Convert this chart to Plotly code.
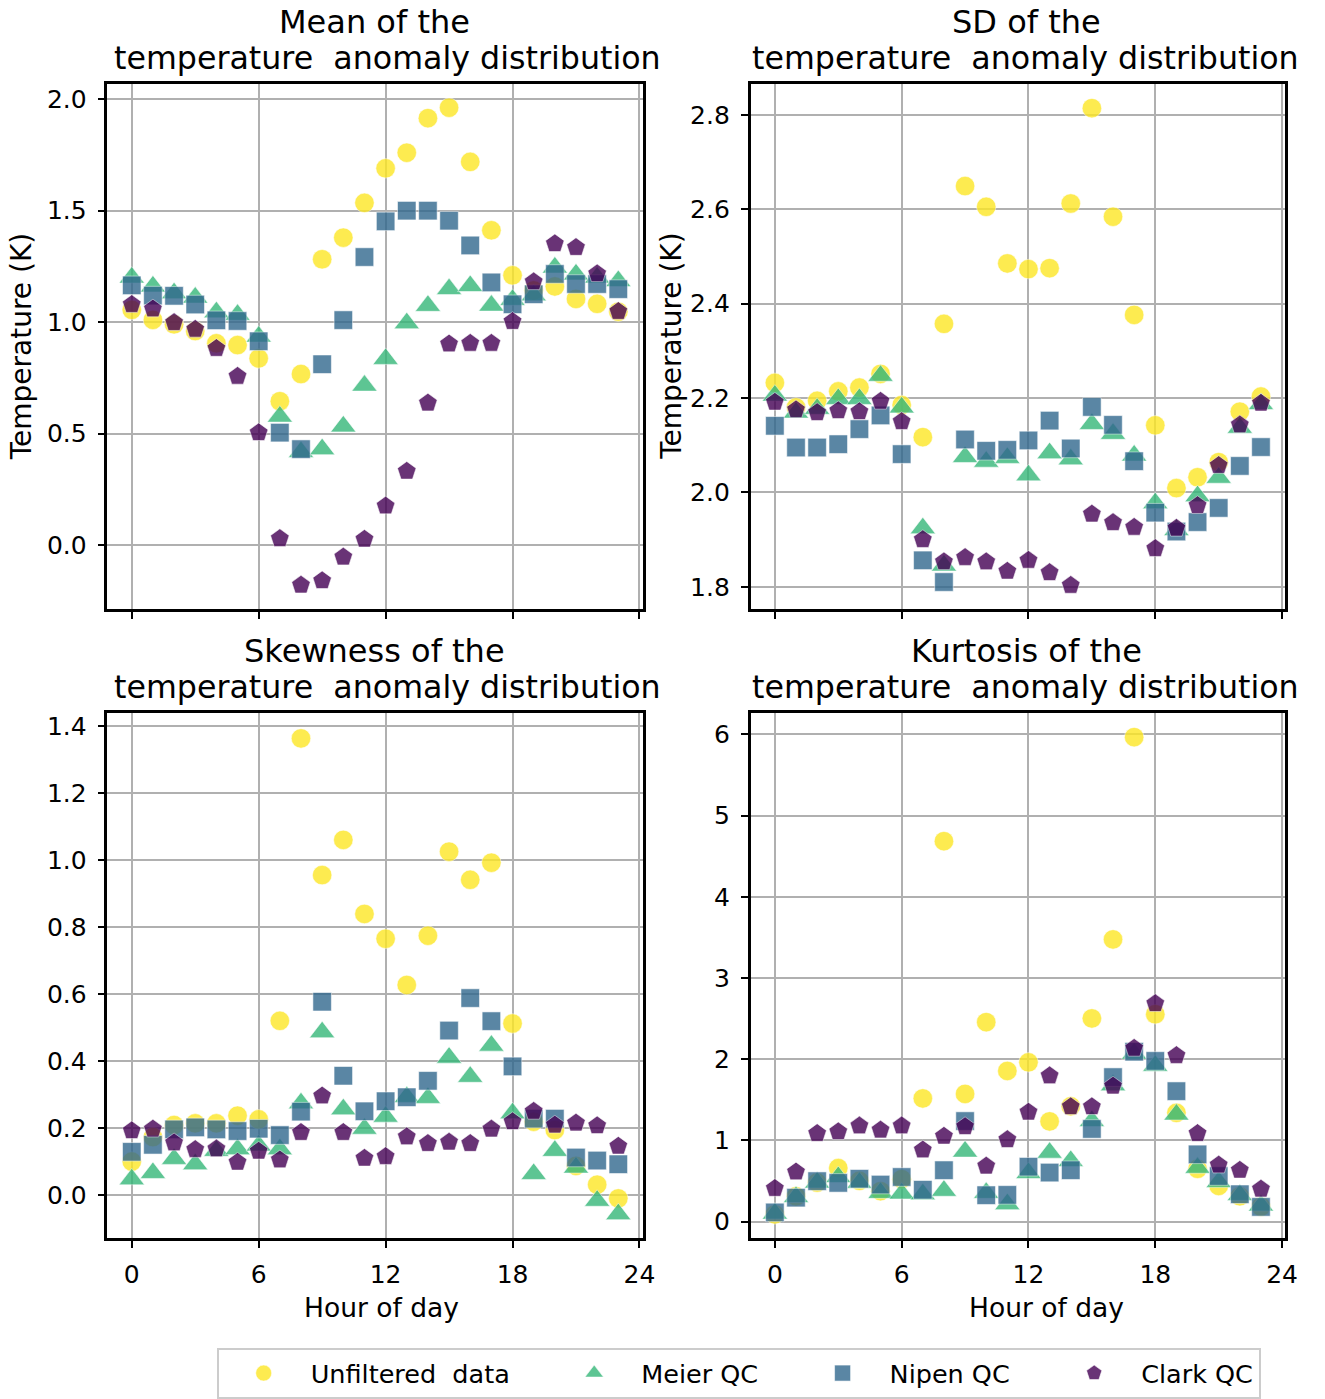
import plotly.graph_objects as go

hours = list(range(24))

NBSP = "\u00a0"
series_names = ["Unfiltered" + NBSP + " data", "Meier QC", "Nipen QC", "Clark QC"]
legend_pad = [NBSP * 4, NBSP * 4, NBSP * 4, ""]
series_colors = ["#fde725", "#35b779", "#31688e", "#440154"]
series_symbols = ["circle", "triangle-up", "square", "pentagon"]
series_sizes = [19.5, 22, 18.5, 19.5]

mean_unf = [1.055, 1.01, 0.99, 0.96, 0.905, 0.897, 0.837, 0.645, 0.767, 1.282, 1.379, 1.535, 1.690, 1.760, 1.915, 1.962, 1.719, 1.412, 1.210, 1.142, 1.160, 1.104, 1.082, 1.047]
mean_meier = [1.20, 1.16, 1.13, 1.11, 1.044, 1.033, 0.935, 0.576, 0.417, 0.430, 0.532, 0.715, 0.835, 0.995, 1.073, 1.148, 1.162, 1.074, 1.10, 1.12, 1.245, 1.214, 1.20, 1.184]
mean_nipen = [1.165, 1.119, 1.118, 1.079, 1.008, 1.005, 0.914, 0.504, 0.430, 0.811, 1.009, 1.292, 1.452, 1.500, 1.500, 1.455, 1.344, 1.178, 1.080, 1.125, 1.216, 1.171, 1.171, 1.148]
mean_clark = [1.079, 1.059, 0.998, 0.968, 0.882, 0.757, 0.504, 0.029, -0.180, -0.160, -0.054, 0.026, 0.175, 0.331, 0.637, 0.902, 0.905, 0.905, 1.003, 1.181, 1.352, 1.335, 1.217, 1.048]

sd_unf = [2.232, 2.18, 2.194, 2.214, 2.222, 2.251, 2.185, 2.117, 2.357, 2.649, 2.605, 2.485, 2.473, 2.475, 2.612, 2.814, 2.584, 2.376, 2.142, 2.009, 2.032, 2.064, 2.171, 2.203]
sd_meier = [2.205, 2.169, 2.177, 2.198, 2.198, 2.247, 2.180, 1.924, 1.845, 2.075, 2.065, 2.073, 2.036, 2.083, 2.070, 2.145, 2.124, 2.078, 1.977, 1.92, 1.992, 2.031, 2.137, 2.187]
sd_nipen = [2.141, 2.095, 2.095, 2.102, 2.134, 2.163, 2.081, 1.856, 1.810, 2.112, 2.088, 2.090, 2.110, 2.152, 2.093, 2.181, 2.143, 2.066, 1.957, 1.917, 1.937, 1.967, 2.056, 2.096]
sd_clark = [2.191, 2.175, 2.169, 2.173, 2.171, 2.193, 2.150, 1.900, 1.853, 1.862, 1.853, 1.833, 1.856, 1.830, 1.803, 1.954, 1.936, 1.926, 1.881, 1.924, 1.972, 2.057, 2.143, 2.189]

skew_unf = [0.101, 0.174, 0.210, 0.215, 0.215, 0.238, 0.227, 0.521, 1.364, 0.956, 1.061, 0.840, 0.766, 0.628, 0.775, 1.026, 0.942, 0.993, 0.513, 0.220, 0.195, 0.088, 0.032, -0.009]
skew_meier = [0.048, 0.067, 0.109, 0.093, 0.133, 0.138, 0.149, 0.138, 0.275, 0.487, 0.257, 0.199, 0.235, 0.294, 0.291, 0.411, 0.354, 0.447, 0.245, 0.064, 0.133, 0.083, -0.016, -0.056]
skew_nipen = [0.130, 0.151, 0.197, 0.203, 0.197, 0.192, 0.199, 0.180, 0.250, 0.578, 0.357, 0.251, 0.281, 0.293, 0.342, 0.492, 0.589, 0.520, 0.385, 0.229, 0.229, 0.113, 0.104, 0.093]
skew_clark = [0.193, 0.198, 0.157, 0.137, 0.139, 0.099, 0.132, 0.106, 0.188, 0.297, 0.188, 0.111, 0.116, 0.175, 0.155, 0.159, 0.155, 0.198, 0.220, 0.251, 0.210, 0.216, 0.208, 0.147]

kurt_unf = [0.09, 0.313, 0.482, 0.660, 0.503, 0.376, 0.524, 1.518, 4.685, 1.573, 2.457, 1.856, 1.962, 1.235, 1.421, 2.503, 3.476, 5.966, 2.554, 1.340, 0.651, 0.440, 0.313, 0.186]
kurt_meier = [0.10, 0.304, 0.482, 0.55, 0.48, 0.355, 0.347, 0.338, 0.381, 0.863, 0.355, 0.216, 0.600, 0.850, 0.748, 1.239, 1.68, 2.07, 1.92, 1.319, 0.664, 0.49, 0.33, 0.20]
kurt_nipen = [0.114, 0.296, 0.499, 0.478, 0.529, 0.457, 0.550, 0.393, 0.634, 1.239, 0.326, 0.330, 0.677, 0.605, 0.634, 1.142, 1.780, 2.093, 1.979, 1.607, 0.829, 0.562, 0.338, 0.182]
kurt_clark = [0.41, 0.613, 1.087, 1.108, 1.180, 1.129, 1.180, 0.884, 1.053, 1.171, 0.685, 1.011, 1.349, 1.797, 1.416, 1.416, 1.670, 2.135, 2.685, 2.046, 1.087, 0.698, 0.634, 0.402]

panel_titles = [
    ("Mean of the", "temperature" + NBSP + " anomaly distribution"),
    ("SD of the", "temperature" + NBSP + " anomaly distribution"),
    ("Skewness of the", "temperature" + NBSP + " anomaly distribution"),
    ("Kurtosis of the", "temperature" + NBSP + " anomaly distribution"),
]
panel_data = [
    [mean_unf, mean_meier, mean_nipen, mean_clark],
    [sd_unf, sd_meier, sd_nipen, sd_clark],
    [skew_unf, skew_meier, skew_nipen, skew_clark],
    [kurt_unf, kurt_meier, kurt_nipen, kurt_clark],
]
y_ranges = [[-0.287, 2.068], [1.753, 2.865], [-0.1265, 1.4385], [-0.198, 6.258]]
y_ticks = [
    [0.0, 0.5, 1.0, 1.5, 2.0],
    [1.8, 2.0, 2.2, 2.4, 2.6, 2.8],
    [0.0, 0.2, 0.4, 0.6, 0.8, 1.0, 1.2, 1.4],
    [0, 1, 2, 3, 4, 5, 6],
]
y_tick_text = [
    ["0.0", "0.5", "1.0", "1.5", "2.0"],
    ["1.8", "2.0", "2.2", "2.4", "2.6", "2.8"],
    ["0.0", "0.2", "0.4", "0.6", "0.8", "1.0", "1.2", "1.4"],
    ["0", "1", "2", "3", "4", "5", "6"],
]
x_ticks = [0, 6, 12, 18, 24]
x_tick_text = ["0", "6", "12", "18", "24"]
y_label = "Temperature (K)"
x_label = "Hour of day"

W, H = 1325, 1399
xdoms = [[108.5 / W, 649 / W], [758 / W, 1298 / W]]
ydoms = [[1 - 611 / H, 1 - 83.5 / H], [1 - 1243 / H, 1 - 716 / H]]
title1_cx = [378, 1037]
title2_cx = [391, 1036]
xlabel_cx = [385, 1057]
ylabel_x = [22, 678]

FONT = "DejaVu Sans"
fig = go.Figure()

layout = dict(
    width=W, height=H, margin=dict(l=0, r=0, t=0, b=0),
    paper_bgcolor="white", plot_bgcolor="white",
    font=dict(family=FONT, size=25, color="black"),
    showlegend=True,
)

annotations = []
for p in range(4):
    row, col = divmod(p, 2)
    ax = "" if p == 0 else str(p + 1)
    for s in range(4):
        fig.add_trace(go.Scatter(
            x=hours, y=panel_data[p][s], mode="markers", name=series_names[s] + legend_pad[s],
            xaxis="x" + ax, yaxis="y" + ax,
            showlegend=(p == 0), legendgroup=series_names[s],
            marker=dict(symbol=series_symbols[s], size=series_sizes[s], color=series_colors[s],
                        opacity=0.8, line=dict(color="rgba(255,255,255,0.55)", width=1)),
        ))
    axis_common = dict(
        showline=True, mirror=True, linecolor="black", linewidth=2.5,
        showgrid=True, gridcolor="#b0b0b0", gridwidth=2, zeroline=False,
        ticks="outside", ticklen=7, tickwidth=2, tickcolor="black",
        tickfont=dict(family=FONT, size=25, color="black"),
    )
    layout["xaxis" + ax] = dict(
        axis_common, domain=xdoms[col], range=[-1.15, 24.15], tickmode="array",
        tickvals=x_ticks, ticktext=x_tick_text, showticklabels=(row == 1),
        anchor="y" + ax, ticklabelstandoff=5,
    )
    layout["yaxis" + ax] = dict(
        axis_common, domain=ydoms[row], range=y_ranges[p], tickmode="array",
        tickvals=y_ticks[p], ticktext=y_tick_text[p], anchor="x" + ax,
        ticklabelstandoff=6,
    )
    top_px = 0 if row == 0 else 632
    annotations.append(dict(text=panel_titles[p][0], x=title1_cx[col] / W, y=1 - (top_px + 21) / H,
                            xref="paper", yref="paper", xanchor="center", yanchor="middle", showarrow=False,
                            font=dict(family=FONT, size=32, color="black")))
    annotations.append(dict(text=panel_titles[p][1], x=title2_cx[col] / W, y=1 - (top_px + 57) / H,
                            xref="paper", yref="paper", xanchor="center", yanchor="middle", showarrow=False,
                            font=dict(family=FONT, size=31.7, color="black")))
    if row == 0:
        annotations.append(dict(text=y_label, x=ylabel_x[col] / W, y=(ydoms[0][0] + ydoms[0][1]) / 2,
                                xref="paper", yref="paper", xanchor="center", yanchor="middle",
                                textangle=-90, showarrow=False,
                                font=dict(family=FONT, size=28, color="black")))
    else:
        annotations.append(dict(text=x_label, x=xlabel_cx[col] / W, y=1 - 1313 / H, xref="paper", yref="paper",
                                xanchor="center", yanchor="middle", showarrow=False,
                                font=dict(family=FONT, size=26.5, color="black")))

layout["annotations"] = annotations
layout["legend"] = dict(
    orientation="h", x=(220 + 1272) / 2 / W, xanchor="center", y=1 - 1354 / H, yanchor="top",
    bordercolor="#cccccc", borderwidth=2, bgcolor="white",
    font=dict(family=FONT, size=25.5, color="black"), itemwidth=84,
)
fig.update_layout(**layout)
fig.write_html("out.html")
